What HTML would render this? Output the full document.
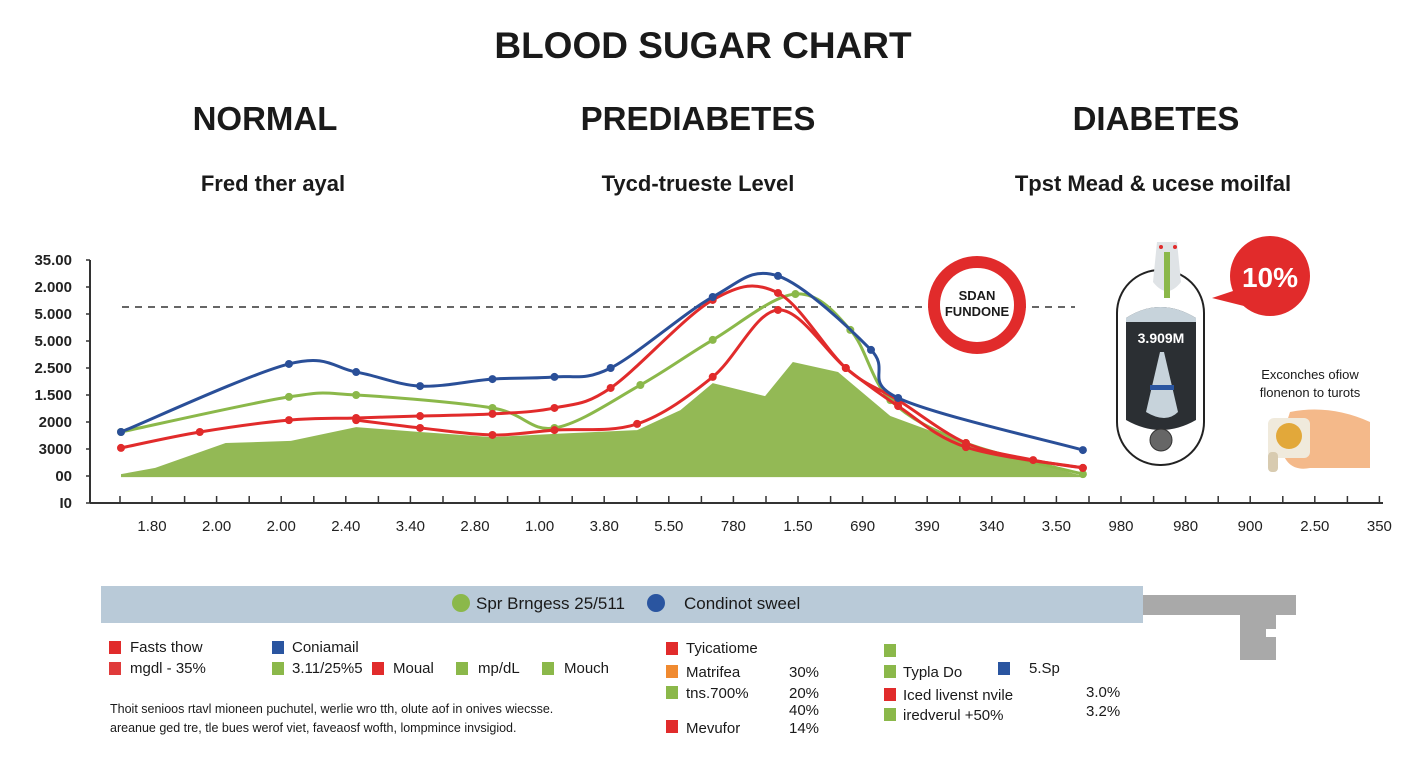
<!DOCTYPE html>
<html><head><meta charset="utf-8">
<style>
body{margin:0;background:#fff;width:1408px;height:768px;overflow:hidden;font-family:"Liberation Sans",sans-serif;}
svg{position:absolute;left:0;top:0}
.t{font-family:"Liberation Sans",sans-serif;fill:#1a1a1a}
</style></head><body>
<svg width="1408" height="768">
<text class="t" x="703" y="58" font-size="37" font-weight="bold" text-anchor="middle">BLOOD SUGAR CHART</text>
<text class="t" x="265" y="130" font-size="33" font-weight="bold" text-anchor="middle">NORMAL</text>
<text class="t" x="698" y="130" font-size="33" font-weight="bold" text-anchor="middle">PREDIABETES</text>
<text class="t" x="1156" y="130" font-size="33" font-weight="bold" text-anchor="middle">DIABETES</text>
<text class="t" x="273" y="191" font-size="22" font-weight="bold" text-anchor="middle">Fred ther ayal</text>
<text class="t" x="698" y="191" font-size="22" font-weight="bold" text-anchor="middle">Tycd-trueste Level</text>
<text class="t" x="1153" y="191" font-size="22" font-weight="bold" text-anchor="middle">Tpst Mead &amp; ucese moilfal</text>
<g id="plot"></g>
<circle cx="977" cy="305" r="43" fill="#fff" stroke="#e12b2b" stroke-width="12"/>
<text class="t" x="977" y="300" font-size="13" font-weight="bold" text-anchor="middle">SDAN</text>
<text class="t" x="977" y="316" font-size="13" font-weight="bold" text-anchor="middle">FUNDONE</text>
<g>
<rect x="1117" y="270" width="87" height="195" rx="43" fill="#fff" stroke="#222" stroke-width="2"/>
<path d="M1157 242 h20 l4 40 q-14 18 -28 0z" fill="#dfe3e6"/>
<rect x="1164" y="252" width="6" height="46" fill="#8bb84a"/>
<circle cx="1161" cy="247" r="2" fill="#e12b2b"/><circle cx="1175" cy="247" r="2" fill="#e12b2b"/>
<path d="M1126 318 q34 -22 70 0 v102 q-35 20 -70 0z" fill="#2b2f33"/>
<path d="M1126 318 q34 -22 70 0 v4 h-70z" fill="#c7d3db"/>
<text x="1161" y="343" font-size="14" fill="#fff" font-weight="bold" text-anchor="middle">3.909M</text>
<path d="M1160 352 h4 l14 60 q-12 12 -32 0z" fill="#c7d3db"/>
<rect x="1150" y="385" width="24" height="5" fill="#2a55a0"/>
<circle cx="1161" cy="440" r="11" fill="#666" stroke="#333"/>
</g>
<g>
<path d="M1212 298 l30 -10 l10 20z" fill="#e12b2b"/>
<circle cx="1270" cy="276" r="40" fill="#e12b2b"/>
<text x="1270" y="287" font-size="28" font-weight="bold" fill="#fff" text-anchor="middle">10%</text>
</g>
<text class="t" x="1310" y="379" font-size="13" text-anchor="middle">Exconches ofiow</text>
<text class="t" x="1310" y="397" font-size="13" text-anchor="middle">flonenon to turots</text>
<g>
<path d="M1290 412 q40 -8 80 10 v46 h-60 q-25 5 -30 -25z" fill="#f4b98a"/>
<rect x="1268" y="418" width="42" height="40" rx="6" fill="#f0eadc"/>
<circle cx="1289" cy="436" r="13" fill="#e2a83a"/>
<rect x="1268" y="452" width="10" height="20" rx="4" fill="#d8cbb0"/>
</g>
<rect x="101" y="586" width="1042" height="37" fill="#b9cad8"/>
<path d="M1143 595 h153 v20 h-20 v14 h-10 v8 h10 v23 h-36 v-45 h-97z" fill="#a9a9a9"/>
<circle cx="461" cy="603" r="9" fill="#8bb84a"/>
<text class="t" x="476" y="609" font-size="17">Spr Brngess 25/511</text>
<circle cx="656" cy="603" r="9" fill="#2a55a0"/>
<text class="t" x="684" y="609" font-size="17">Condinot sweel</text>
<g font-size="15" class="t">
<rect x="109" y="641" width="12" height="13" fill="#e12b2b"/><text class="t" x="130" y="652">Fasts thow</text>
<rect x="272" y="641" width="12" height="13" fill="#2a55a0"/><text class="t" x="292" y="652">Coniamail</text>
<rect x="109" y="662" width="12" height="13" fill="#e03b3b"/><text class="t" x="130" y="673">mgdl - 35%</text>
<rect x="272" y="662" width="12" height="13" fill="#8bb84a"/><text class="t" x="292" y="673">3.11/25%5</text>
<rect x="372" y="662" width="12" height="13" fill="#e12b2b"/><text class="t" x="393" y="673">Moual</text>
<rect x="456" y="662" width="12" height="13" fill="#8bb84a"/><text class="t" x="478" y="673">mp/dL</text>
<rect x="542" y="662" width="12" height="13" fill="#8bb84a"/><text class="t" x="564" y="673">Mouch</text>
<text class="t" x="110" y="713" font-size="12.5">Thoit senioos rtavl mioneen puchutel, werlie wro tth, olute aof in onives wiecsse.</text>
<text class="t" x="110" y="732" font-size="12.5">areanue ged tre, tle bues werof viet, faveaosf wofth, lompmince invsigiod.</text>
<rect x="666" y="642" width="12" height="13" fill="#e12b2b"/><text class="t" x="686" y="653">Tyicatiome</text>
<rect x="666" y="665" width="12" height="13" fill="#f08a30"/><text class="t" x="686" y="677">Matrifea</text><text class="t" x="789" y="677">30%</text>
<rect x="666" y="686" width="12" height="13" fill="#8bb84a"/><text class="t" x="686" y="698">tns.700%</text><text class="t" x="789" y="698">20%</text>
<text class="t" x="789" y="715">40%</text>
<rect x="666" y="720" width="12" height="13" fill="#e12b2b"/><text class="t" x="686" y="733">Mevufor</text><text class="t" x="789" y="733">14%</text>
<rect x="884" y="644" width="12" height="13" fill="#8bb84a"/>
<rect x="884" y="665" width="12" height="13" fill="#8bb84a"/><text class="t" x="903" y="677">Typla  Do</text>
<rect x="998" y="662" width="12" height="13" fill="#2a55a0"/><text class="t" x="1029" y="673">5.Sp</text>
<rect x="884" y="688" width="12" height="13" fill="#e12b2b"/><text class="t" x="903" y="700">Iced livenst nvile</text><text class="t" x="1086" y="697">3.0%</text>
<rect x="884" y="708" width="12" height="13" fill="#8bb84a"/><text class="t" x="903" y="720">iredverul  +50%</text><text class="t" x="1086" y="716">3.2%</text>
</g>
</svg>
<script>
const yTickLabels = ["I0","00","3000","2000","1.500","2.500","5.000","5.000","2.000","35.00"];
const xTickLabels = ["1.80","2.00","2.00","2.40","3.40","2.80","1.00","3.80","5.50","780","1.50","690","390","340","3.50","980","980","900","2.50","350"];
const blueT = [0.52,3.12,4.16,5.15,6.27,7.23,8.1,9.68,10.69,12.13,12.55,15.41];
const blueV = [2.63,5.15,4.85,4.33,4.59,4.67,5.0,7.63,8.41,5.67,3.89,1.96];
const greenT = [0.52,3.12,4.16,6.27,7.23,8.56,9.68,10.96,11.81,12.43,13.6,15.41];
const greenV = [2.63,3.93,4.0,3.52,2.78,4.37,6.04,7.74,6.41,3.81,2.22,1.07];
const red1T = [0.52,1.74,3.12,4.16,5.15,6.27,7.23,8.1,9.68,10.69,11.74,12.55,13.6,14.64,15.41];
const red1V = [2.04,2.63,3.07,3.15,3.22,3.30,3.52,4.26,7.52,7.78,5.0,3.81,2.22,1.59,1.30];
const red2T = [4.16,5.15,6.27,7.23,8.51,9.68,10.69,11.74,12.55,13.6,15.41];
const red2V = [3.07,2.78,2.52,2.70,2.93,4.67,7.15,5.0,3.59,2.07,1.30];
const areaT = [0.52,1.05,2.14,3.15,4.16,5.15,6.27,7.23,8.51,9.18,9.68,10.49,10.92,11.62,12.43,13.6,15.41];
const areaV = [1.07,1.30,2.22,2.30,2.81,2.63,2.44,2.56,2.70,3.44,4.44,3.96,5.22,4.85,3.22,2.19,1.0];
const areaBase = 0.96;
const thresholdV = 7.26;

const NS="http://www.w3.org/2000/svg";
const g=document.getElementById('plot');
const X0=90,Y0=503;
const xs=t=>152+(t-1)*64.6;
const ys=v=>Y0-v*27;
function mk(tag,attrs){const e=document.createElementNS(NS,tag);for(const k in attrs)e.setAttribute(k,attrs[k]);g.appendChild(e);return e;}
function smooth(T,V){const p=T.map((t,i)=>[xs(t),ys(V[i])]);let d=`M${p[0][0]},${p[0][1]}`;
 for(let i=0;i<p.length-1;i++){const a=p[i-1]||p[i],b=p[i],c=p[i+1],e=p[i+2]||c;
  d+=` C${b[0]+(c[0]-a[0])/6},${b[1]+(c[1]-a[1])/6} ${c[0]-(e[0]-b[0])/6},${c[1]-(e[1]-b[1])/6} ${c[0]},${c[1]}`;}return d;}
let ad=`M${xs(areaT[0])},${ys(areaBase)}`;areaT.forEach((t,i)=>ad+=` L${xs(t)},${ys(areaV[i])}`);ad+=` L${xs(areaT[areaT.length-1])},${ys(areaBase)}Z`;
const area=mk('path',{d:ad,fill:'#93b955'});


const th=mk('line',{x1:122,x2:1075,y1:ys(thresholdV),y2:ys(thresholdV),stroke:'#333','stroke-width':1.5,'stroke-dasharray':'7 6'});


const ya=mk('line',{x1:X0,x2:X0,y1:260,y2:Y0,stroke:'#333','stroke-width':2});


const xa=mk('line',{x1:X0,x2:1383,y1:Y0,y2:Y0,stroke:'#333','stroke-width':2});


yTickLabels.forEach((l,i)=>{const y=ys(i);
 mk('line',{x1:X0-4,x2:X0,y1:y,y2:y,stroke:'#333','stroke-width':1.5});
 const tx=mk('text',{x:72,y:y+5,'font-size':15,'font-weight':'bold','text-anchor':'end',fill:'#222','font-family':'Liberation Sans'});tx.textContent=l;
 
 });
xTickLabels.forEach((l,i)=>{const x=xs(i+1);
 mk('line',{x1:x,x2:x,y1:Y0-7,y2:Y0,stroke:'#333','stroke-width':1.5});
 mk('line',{x1:x-32,x2:x-32,y1:Y0-7,y2:Y0,stroke:'#333','stroke-width':1.5});
 const tx=mk('text',{x:x,y:531,'font-size':15,'text-anchor':'middle',fill:'#222','font-family':'Liberation Sans'});tx.textContent=l;
 
 });
function series(T,V,color,name,w){const p=mk('path',{d:smooth(T,V),fill:'none',stroke:color,'stroke-width':w});
 
 
 T.forEach((t,i)=>{const c=mk('circle',{cx:xs(t),cy:ys(V[i]),r:4,fill:color});
  
  });}
series(greenT,greenV,'#8bb84a','green-line',3);
series(red2T,red2V,'#e12b2b','red-line-lower',3);
series(red1T,red1V,'#e12b2b','red-line-upper',3);
series(blueT,blueV,'#2a4f98','blue-line',3);
</script>
</body></html>
